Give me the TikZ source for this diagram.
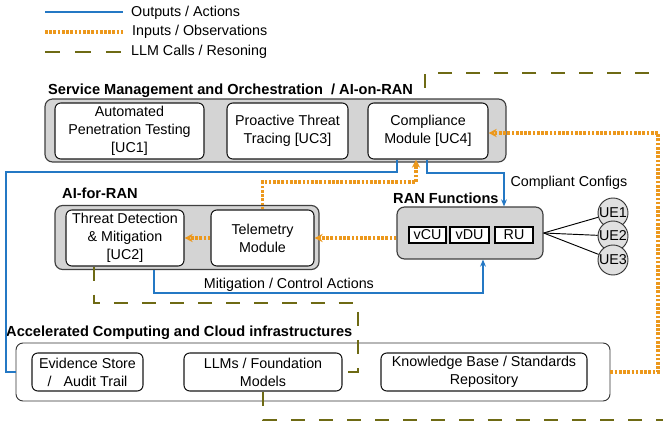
\documentclass[tikz,border=0pt]{standalone}
\usepackage{fontspec}
\setmainfont{Liberation Sans}
\usetikzlibrary{arrows.meta}
\definecolor{outblue}{RGB}{36,120,196}
\definecolor{inorange}{RGB}{236,152,28}
\definecolor{llmolive}{RGB}{110,106,20}
\definecolor{panelgray}{RGB}{212,212,212}
\tikzset{
  panel/.style={draw=black!75, line width=1pt, fill=panelgray, rounded corners=6.5pt},
  infrabox/.style={draw=black!80, line width=0.8pt, fill=white, rounded corners=6pt},
  block/.style={draw=black!90, line width=0.9pt, fill=white, rounded corners=5pt, align=center, inner sep=1pt},
  rfunc/.style={draw=black, line width=0.9pt, fill=white, inner sep=0pt},
  ue/.style={circle, draw=black!80, line width=0.8pt, fill=black!12, inner sep=0pt, minimum size=0.9cm},
  grouptitle/.style={font=\fontsize{12.45}{15.4}\selectfont\bfseries, anchor=west, inner sep=0pt},
  legtext/.style={anchor=west, inner sep=0pt},
  outflow/.style={draw=outblue, line width=1.1pt},
  inflow/.style={draw=inorange, line width=2.6pt, dash pattern=on 2.3pt off 1.3pt},
  llmcall/.style={draw=llmolive, line width=1.8pt, dash pattern=on 12pt off 12pt}
}
\begin{document}
\begin{tikzpicture}[x=0.03cm, y=-0.03cm, font=\fontsize{12.2}{15.4}\selectfont]
    \useasboundingbox (0,0) rectangle (663,424);
    %legenda
    \coordinate (lega) at (45,12);
    \coordinate (legb) at (123,12);
    \coordinate (legc) at (45,32);
    \coordinate (legd) at (123,32);
    \coordinate (lege) at (45,52);
    \coordinate (legf) at (123,52);
    \draw[outflow] (lega) -- (legb);
    \draw[inflow] (legc) -- (legd);
    \draw[llmcall, dash pattern=on 13pt off 13pt] (lege) -- (legf);
    \node[legtext] (legout) at (131,13) {Outputs / Actions};
    \node[legtext] (legin) at (132,32) {Inputs / Observations};
    \node[legtext] (legllm) at (131,52) {LLM Calls / Resoning};
    %service management
    \node[grouptitle] (smotitle) at (48,91) {Service Management and Orchestration\ \ / AI-on-RAN};
    \node[panel, minimum width=13.83cm, minimum height=1.89cm] (smo) at (275.5,130.5) {};
    \node[block, minimum width=4.47cm, minimum height=1.68cm] (uc1) at (129.5,131) {Automated\\Penetration Testing\\{[UC1]}};
    \node[block, minimum width=3.63cm, minimum height=1.68cm] (uc3) at (287.5,131) {Proactive Threat\\Tracing [UC3]};
    \node[block, minimum width=3.6cm, minimum height=1.68cm] (uc4) at (428,131) {Compliance\\Module [UC4]};
    %AI for RAN
    \node[grouptitle] (aiftitle) at (62,193) {AI-for-RAN};
    \node[panel, minimum width=7.92cm, minimum height=1.92cm] (aifr) at (187,237.5) {};
    \node[block, minimum width=3.54cm, minimum height=1.68cm] (threat) at (125,238) {Threat Detection\\\& Mitigation\\{[UC2]}};
    \node[block, minimum width=3.09cm, minimum height=1.68cm] (telem) at (262.5,238) {Telemetry\\Module};
    %RAN functions
    \node[grouptitle] (rantitle) at (393,198) {RAN Functions};
    \node[panel, minimum width=4.38cm, minimum height=1.56cm] (ran) at (470,233) {};
    \node[rfunc, minimum width=1.11cm, minimum height=0.48cm] (vcu) at (427.5,235) {vCU};
    \node[rfunc, minimum width=1.17cm, minimum height=0.48cm] (vdu) at (469.5,235) {vDU};
    \node[rfunc, minimum width=1.14cm, minimum height=0.48cm] (ru) at (514,235) {RU};
    \node[ue] (ue1) at (613,213) {UE1};
    \node[ue] (ue2) at (613,236) {UE2};
    \node[ue] (ue3) at (613,260) {UE3};
    \draw[line width=0.8pt] (ran.east) -- (ue1);
    \draw[line width=0.8pt] (ran.east) -- (ue2);
    \draw[line width=0.8pt] (ran.east) -- (ue3);
    %infrastrutture
    \node[grouptitle] (infratitle) at (6,333) {Accelerated Computing and Cloud infrastructures};
    \node[infrabox, minimum width=17.82cm, minimum height=1.74cm] (infra) at (313,372) {};
    \node[block, minimum width=3.33cm, minimum height=1.14cm] (evid) at (87.5,372) {Evidence Store\\/\ \ \ Audit Trail};
    \node[block, minimum width=4.74cm, minimum height=1.14cm] (llm) at (263,372) {LLMs / Foundation\\Models};
    \node[block, minimum width=6.18cm, minimum height=1.14cm] (kb) at (484,372) {Knowledge Base / Standards\\Repository};
    %uscite
    \coordinate (ca) at (397,172);
    \coordinate (cb) at (6,172);
    \draw[outflow] (uc4.south -| ca) -- (ca) -- (cb) |- (infra.west);
    \coordinate (cc) at (427,173);
    \coordinate (cd) at (504,173);
    \draw[outflow, -{Stealth[length=6pt,width=5pt]}] (uc4.south -| cc) -- (cc) -- (cd)
        -- node[right, pos=0.3, inner sep=5pt] (cfglabel) {Compliant Configs} (cd |- ran.north);
    \coordinate (ma) at (154,293);
    \coordinate (mb) at (483,293);
    \draw[outflow, -{Stealth[length=6pt,width=5pt]}] (aifr.south -| ma) -- (ma)
        -- node[above, pos=0.41, inner sep=1pt] (mitlabel) {Mitigation / Control Actions} (mb) -- (mb |- ran.south);
    %ingressi
    \coordinate (oa) at (416,182);
    \draw[inflow, -{Stealth[length=7pt,width=7pt]}] (telem.north) |- (oa) -- (uc4.south -| oa);
    \draw[inflow, -{Stealth[length=7pt,width=7pt]}] (ran.west |- telem.east) -- (telem.east);
    \draw[inflow, -{Stealth[length=7pt,width=7pt]}] (telem.west) -- (threat.east);
    \coordinate (ob) at (658,133);
    \draw[inflow, -{Stealth[length=7pt,width=7pt]}] (infra.east) -| (ob) -- (uc4.east |- ob);
    %chiamate LLM
    \coordinate (la) at (94,303);
    \coordinate (lb) at (358,303);
    \draw[llmcall] (threat.south -| la) -- (la) -- (lb) |- (llm.east);
    \begin{scope}
        \clip (0,0) rectangle (663,424);
        \coordinate (lc) at (263,420);
        \coordinate (ld) at (690,420);
        \coordinate (le) at (690,73);
        \coordinate (lf) at (425,73);
        \coordinate (lg) at (425,95);
        \draw[llmcall] (llm.south) -- (lc) -- (ld) -- (le) -- (lf) -- (lg);
    \end{scope}
\end{tikzpicture}
\end{document}
